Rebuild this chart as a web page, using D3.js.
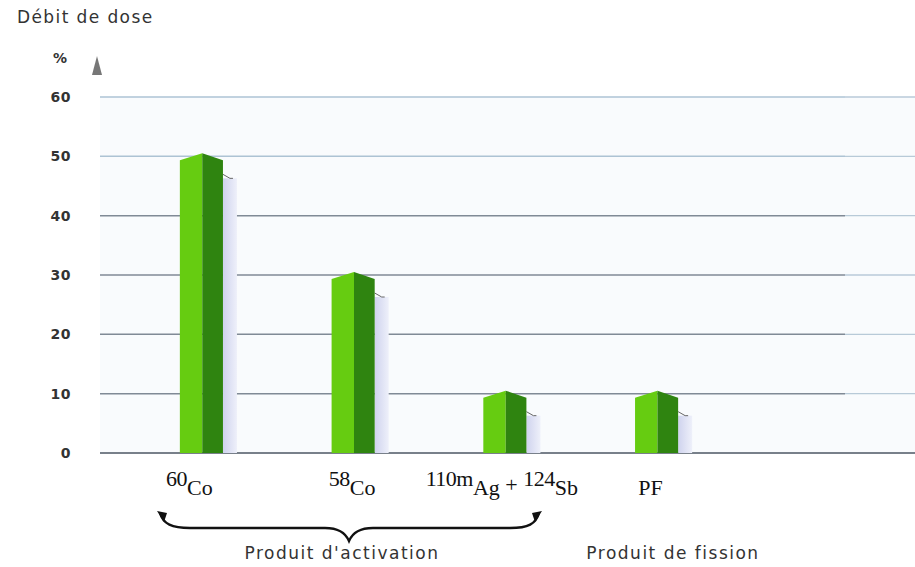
<!DOCTYPE html>
<html>
<head>
<meta charset="utf-8">
<script src="https://cdn.jsdelivr.net/npm/d3@7"></script>
<style>
  body { margin: 0; background: #fff; }
  svg { display: block; }
  .sans { font-family: "DejaVu Sans", "Open Sans", sans-serif; fill: #333; }
  .serif { font-family: "Liberation Serif", "DejaVu Serif", serif; fill: #111; }
</style>
</head>
<body>
<div id="chart"></div>
<script>
// data
const isotopes = ["60Co", "58Co", "110mAg+124Sb", "PF"];
const doseShare = [50, 30, 10, 10];
const yTicks = [0, 10, 20, 30, 40, 50, 60];
const groups = ["Produit d'activation", "Produit de fission"];

const width = 915, height = 567;
const svg = d3.select("#chart").append("svg")
    .attr("width", width)
    .attr("height", height);

const x = d3.scaleBand()
    .domain(isotopes)
    .range([104, 754])
    .paddingInner(0.716)
    .paddingOuter(0.5);

const y = d3.scaleLinear()
    .domain([0, 60])
    .range([453, 97]);

const defs = svg.append("defs");
const sh = defs.append("linearGradient").attr("id", "shadow");
sh.append("stop").attr("offset", "0%").attr("stop-color", "#cfd3ee");
sh.append("stop").attr("offset", "100%").attr("stop-color", "#eef0fa");

// faint backdrop
svg.append("rect")
    .attr("x", 100).attr("y", 97)
    .attr("width", 815).attr("height", 356)
    .attr("fill", "#f9fbfd");

// gridlines
svg.append("g")
    .selectAll("line")
    .data(yTicks.filter(d => d > 0))
    .enter().append("line")
    .attr("x1", 100).attr("x2", 845)
    .attr("y1", d => y(d)).attr("y2", d => y(d))
    .attr("stroke", d => d >= 50 ? "#adc3d4" : "#808a96")
    .attr("stroke-width", 1.5);

// lighter segment on the right
svg.append("g")
    .selectAll("line")
    .data(yTicks.filter(d => d > 0))
    .enter().append("line")
    .attr("x1", 845).attr("x2", 915)
    .attr("y1", d => y(d)).attr("y2", d => y(d))
    .attr("stroke", "#b8cad8")
    .attr("stroke-width", 1.4);

// baseline
svg.append("line")
    .attr("x1", 100).attr("x2", 915)
    .attr("y1", y(0)).attr("y2", y(0))
    .attr("stroke", "#78808a").attr("stroke-width", 1.8);

// y axis labels
const yAxis = d3.axisLeft(y).tickValues(yTicks).tickSize(0).tickPadding(0);
svg.append("g")
    .attr("transform", "translate(71,0)")
    .call(yAxis)
    .call(g => g.select(".domain").remove())
    .selectAll("text")
    .attr("class", "sans")
    .style("font-size", "14px")
    .style("font-weight", "bold")
    .style("letter-spacing", "0.5px")
    .attr("fill", "#333");

svg.append("text").attr("class", "sans")
    .attr("x", 17).attr("y", 23)
    .style("font-size", "17px")
    .style("letter-spacing", "1.4px")
    .text("Débit de dose");
svg.append("text").attr("class", "sans")
    .attr("x", 53).attr("y", 63)
    .style("font-size", "14px").style("font-weight", "bold")
    .text("%");
svg.append("path")
    .attr("d", "M97,56 L102,75 L92,75 Z")
    .attr("fill", "#777");

// bars
const bars = svg.append("g")
    .selectAll("g")
    .data(isotopes.map((k, i) => ({ k, v: doseShare[i] })))
    .enter().append("g");

bars.append("rect")
    .attr("x", d => x(d.k) + x.bandwidth())
    .attr("y", d => y(d.v) + 22)
    .attr("width", 14)
    .attr("height", d => y(0) - y(d.v) - 22)
    .attr("fill", "url(#shadow)");

bars.append("path")
    .attr("d", d => {
        const xr = x(d.k) + x.bandwidth();
        const t = y(d.v) + 22;
        return `M${xr},${t - 4} L${xr + 7},${t} L${xr + 10},${t}`;
    })
    .attr("fill", "none").attr("stroke", "#666").attr("stroke-width", 1);

bars.append("path")
    .attr("d", d => {
        const x0 = x(d.k), xc = x0 + x.bandwidth() * 0.52, t = y(d.v);
        return `M${x0},${t + 4} L${xc},${t - 3} L${xc},${y(0)} L${x0},${y(0)} Z`;
    })
    .attr("fill", "#66cc11");

bars.append("path")
    .attr("d", d => {
        const x1 = x(d.k) + x.bandwidth(), xc = x(d.k) + x.bandwidth() * 0.52, t = y(d.v);
        return `M${xc},${t - 3} L${x1},${t + 4} L${x1},${y(0)} L${xc},${y(0)} Z`;
    })
    .attr("fill", "#2f8410");

// category labels with mass numbers as superscripts
const labelParts = [
    [["60", true], ["Co", false]],
    [["58", true], ["Co", false]],
    [["110m", true], ["Ag", false], [" + ", false], ["124", true], ["Sb", false]],
    [["PF", false]]
];
const labelShift = [-12, -1, -3, -6];

const labels = svg.append("g")
    .selectAll("text")
    .data(isotopes)
    .enter().append("text")
    .attr("class", "serif")
    .attr("x", (d, i) => x(d) + x.bandwidth() / 2 + labelShift[i])
    .attr("y", 495)
    .attr("text-anchor", "middle")
    .style("font-size", "22px");

labels.each(function (d, i) {
    const t = d3.select(this);
    let lift = 0;
    labelParts[i].forEach(([s, sup]) => {
        const ts = t.append("tspan").text(s);
        const target = sup ? -9 : (s === " + " ? -3 : 0);
        if (target !== lift) ts.attr("dy", target - lift);
        lift = target;
        if (sup) ts.style("font-size", "22px").style("letter-spacing", "-0.5px");
    });
});

// brace under the activation products
svg.append("path")
    .attr("d", "M160,513 C163,524 172,528 190,528 L325,528 C338,528 345,532 349,541 C353,532 360,528 373,528 L510,528 C528,528 536,524 539,513")
    .attr("fill", "none").attr("stroke", "#111").attr("stroke-width", 2.4);
svg.append("path")
    .attr("d", "M157,511 L167,513 L164,522 Z M542,511 L532,513 L535,522 Z")
    .attr("fill", "#111");

svg.append("text").attr("class", "sans")
    .attr("x", 342).attr("y", 559)
    .attr("text-anchor", "middle")
    .style("font-size", "17px")
    .style("letter-spacing", "1.5px")
    .text(groups[0]);
svg.append("text").attr("class", "sans")
    .attr("x", 673).attr("y", 559)
    .attr("text-anchor", "middle")
    .style("font-size", "17px")
    .style("letter-spacing", "1.5px")
    .text(groups[1]);
</script>
</body>
</html>
